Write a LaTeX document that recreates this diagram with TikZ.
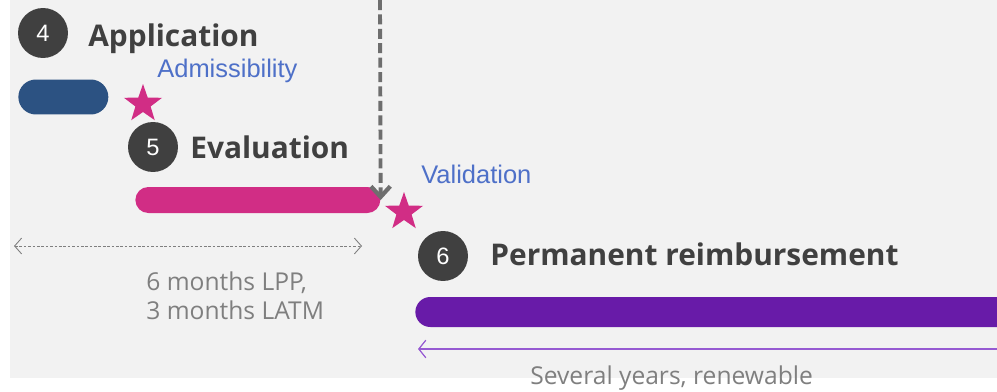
\documentclass[tikz,border=0pt]{standalone}
\usepackage{fontspec}
\setmainfont{Open Sans}
\newfontfamily\arialfont{Liberation Sans}
\usepackage{tikz}
\usetikzlibrary{positioning,
                arrows.meta,                % arrow tips
                shapes.geometric}           % star

\definecolor{bggray}{HTML}{F2F2F2}
\definecolor{darkgray}{HTML}{404040}
\definecolor{appblue}{RGB}{44,82,130}
\definecolor{magenta}{RGB}{209,45,133}
\definecolor{permpurple}{RGB}{104,27,168}
\definecolor{linepurple}{RGB}{150,90,210}
\definecolor{textblue}{RGB}{78,112,200}
\definecolor{textgray}{HTML}{7F7F7F}
\definecolor{arrowgray}{HTML}{6E6E6E}

\begin{document}
\begin{tikzpicture}[x=0.02cm, y=-0.02cm,
    stepnum/.style={circle, fill=darkgray, text=white, minimum size=1cm,
                    inner sep=0pt, font=\arialfont\fontsize{13.5}{14}\selectfont},
    steptitle/.style={anchor=base west, text=darkgray, inner sep=0pt,
                      font=\bfseries\fontsize{17}{20}\selectfont},
    milestone/.style={anchor=base west, text=textblue, inner sep=0pt,
                      font=\arialfont\fontsize{14.5}{17}\selectfont},
    duration/.style={text=textgray, inner sep=0pt,
                     font=\fontsize{14}{17}\selectfont},
    bar/.style={rectangle, inner sep=0pt, anchor=west},
    mark star/.style={star, star points=5, star point ratio=2.5, fill=magenta,
                      minimum size=0.8cm, inner sep=0pt}]

    \useasboundingbox (0,0) rectangle (997,392);
    \fill[bggray] (10,0) rectangle (997,378);

    % step 4
    \node[stepnum] (appnum) at (43,33) {4};
    \node[steptitle] (app) at (88,46) {Application};
    \node[bar, fill=appblue, minimum width=1.8cm, minimum height=0.7cm,
          rounded corners=0.35cm] (appbar) at (18,97) {};
    \node[mark star] (admstar) at (143,104) {};
    \node[milestone] (adm) at (157,77) {Admissibility};

    % step 5
    \node[stepnum] (evalnum) at (153,147) {5};
    \node[steptitle] (eval) at (190,158) {Evaluation};
    \node[bar, fill=magenta, minimum width=4.9cm, minimum height=0.52cm,
          rounded corners=0.26cm] (evalbar) at (135,200) {};
    \node[mark star] (valstar) at (404,212) {};
    \node[milestone] (val) at (421,183) {Validation};

    \coordinate (valtop) at (380,0);
    \draw[arrowgray, line width=2.2pt, dash pattern=on 5.7pt off 2.5pt,
          -{Straight Barb[length=6pt, width=11pt, line width=2.4pt]}]
        (valtop) -- (evalbar.east);

    \coordinate (lppleft) at (14,246);
    \coordinate (lppright) at (362,246);
    \draw[textgray, line width=0.5pt, dash pattern=on 1.5pt off 1pt,
          {Straight Barb[length=4pt, width=9pt]}-{Straight Barb[length=4pt, width=9pt]}]
        (lppleft) -- (lppright);
    \node[duration, anchor=base west, align=left] (lpp) at (146,319)
        {6 months LPP,\\[-0.5pt]3 months LATM};

    % step 6
    \node[stepnum] (permnum) at (443,256) {6};
    \node[steptitle] (perm) at (490,265) {Permanent reimbursement};
    \node[bar, fill=permpurple, minimum width=12cm, minimum height=0.6cm,
          rounded corners=0.3cm] (permbar) at (415,312) {};

    \coordinate (permright) at (997,349);
    \coordinate (permleft) at (418,349);
    \draw[linepurple, line width=0.7pt,
          -{Straight Barb[length=4pt, width=10pt]}] (permright) -- (permleft);
    \node[duration, anchor=base west] (years) at (530,384)
        {Several years, renewable};

\end{tikzpicture}
\end{document}
